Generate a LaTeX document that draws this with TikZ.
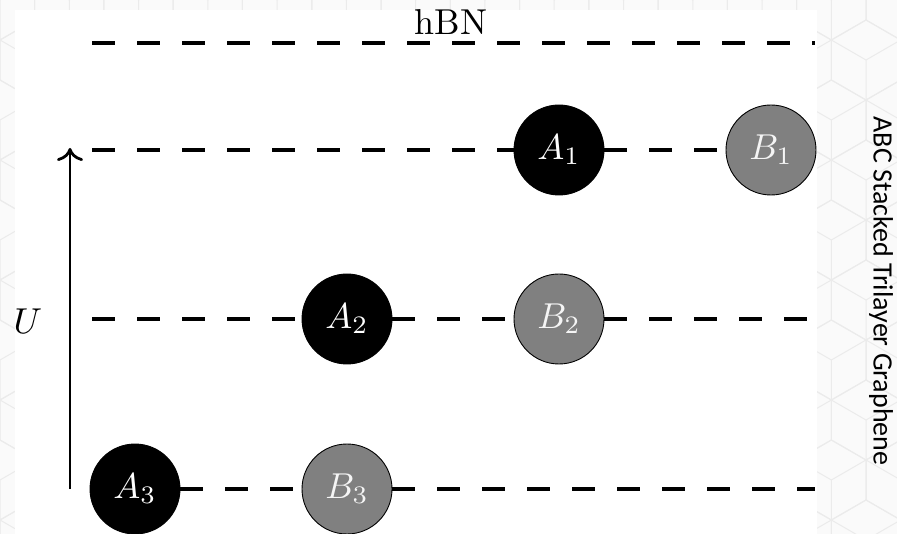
\documentclass[tikz,border=0pt]{standalone}
\usepackage{fontspec}
\newfontfamily\sidefont{Carlito}
\usetikzlibrary{arrows.meta}
% labels set at 10pt and enlarged, keeping the 10pt design weight
\newcommand\bigtxt[1]{\scalebox{3.6}{#1}}
\tikzset{
  siteA/.style={circle,draw=black,line width=0.9pt,fill=black,minimum size=90pt,
    inner sep=0pt,text=white},
  siteB/.style={siteA,fill=gray,text=white!92!gray},
  layer/.style={line width=3.6pt,dash pattern=on 23pt off 22pt},
  hexline/.style={draw=black!8,line width=1pt},
}
\begin{document}
\begin{tikzpicture}[x=1pt,y=-1pt]
\useasboundingbox (0,0) rectangle (897,534);
% faint tiled backdrop
\begin{scope}
  \clip (0,0) rectangle (897,534);
  \fill[black!2] (0,0) rectangle (897,534);
  \foreach \j in {-1,...,10}{
    \foreach \i in {-1,...,13}{
      \pgfmathsetmacro{\cx}{\i*69.28+mod(\j+2,2)*34.64}
      \pgfmathsetmacro{\cy}{\j*60}
      \draw[hexline] (\cx,\cy) ++(30:40) -- ++(150:40) -- ++(210:40) -- ++(270:40)
        -- ++(330:40) -- ++(30:40) -- cycle;
      \draw[hexline] (\cx,\cy) -- ++(90:40) (\cx,\cy) -- ++(210:40) (\cx,\cy) -- ++(330:40);
    }
  }
\end{scope}
\fill[white] (15,10) rectangle (817,534);

% atoms
\node[siteA] (A1) at (559,150) {\bigtxt{$A_1$}};
\node[siteB] (B1) at (771,150) {\bigtxt{$B_1$}};
\node[siteA] (A2) at (347,319) {\bigtxt{$A_2$}};
\node[siteB] (B2) at (559,319) {\bigtxt{$B_2$}};
\node[siteA] (A3) at (135,489) {\bigtxt{$A_3$}};
\node[siteB] (B3) at (347,489) {\bigtxt{$B_3$}};

% layer ends
\coordinate (h0) at (92,43);
\coordinate (h1) at (815,43);
\coordinate (l1) at (92,150);
\coordinate (l2) at (92,319);
\coordinate (r2) at (815,319);
\coordinate (r3) at (815,489);

% layers
\draw[layer] (h0) -- (h1);
\draw[layer] (l1) -- (A1);
\draw[layer] (A1) -- (B1);
\draw[layer] (l2) -- (A2);
\draw[layer] (A2) -- (B2);
\draw[layer] (B2) -- (r2);
\draw[layer] (A3) -- (B3);
\draw[layer] (B3) -- (r3);

\node[anchor=base] (hbn) at (451,35) {\bigtxt{hBN}};

% potential axis
\coordinate (ub) at (70,489);
\coordinate (ut) at (70,148);
\draw[line width=2.8pt,
  -{Computer Modern Rightarrow[length=13pt,width=26pt,line width=2.8pt]}] (ub) -- (ut);
\node (U) at (28,321) {\bigtxt{$U$}};

\node[rotate=-90,font=\sidefont\fontsize{28}{32}\selectfont] (title) at (881,291)
  {ABC Stacked Trilayer Graphene};
\end{tikzpicture}
\end{document}
